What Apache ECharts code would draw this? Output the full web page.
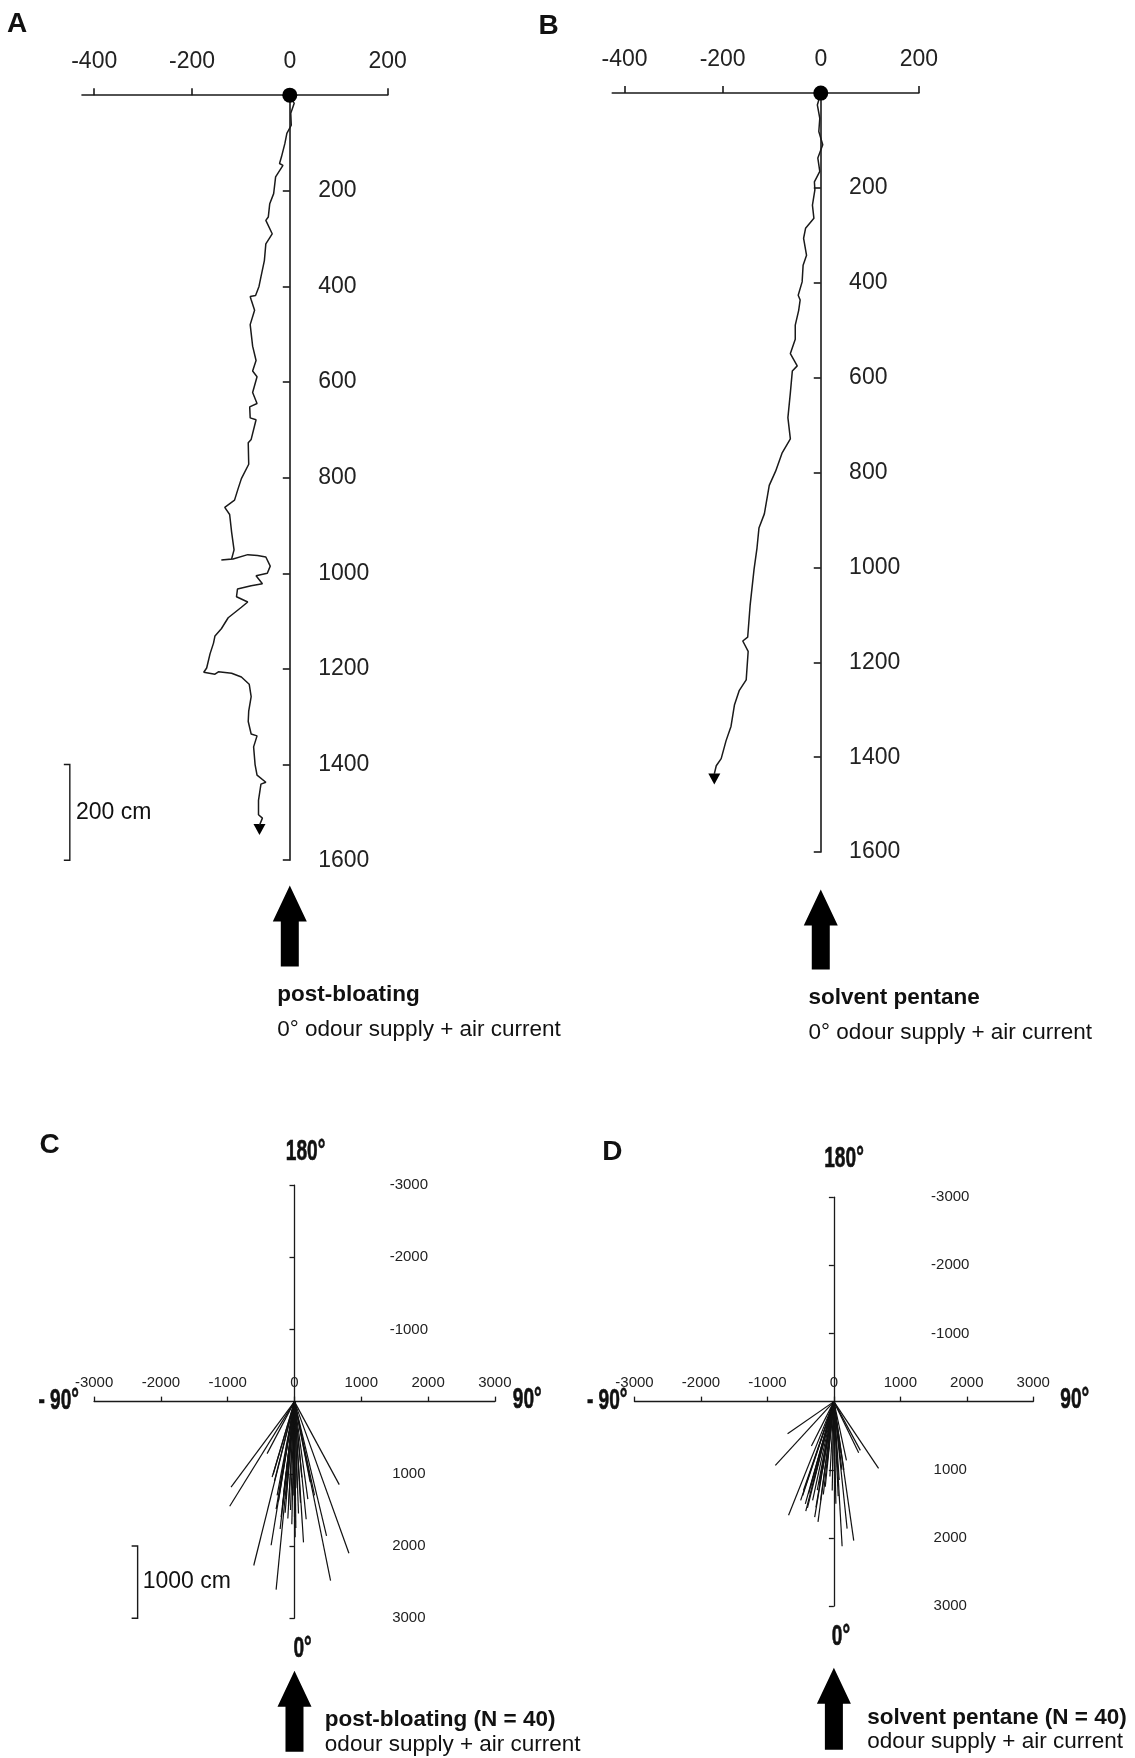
<!DOCTYPE html>
<html><head><meta charset="utf-8">
<script src="https://cdn.jsdelivr.net/npm/echarts@6/dist/echarts.min.js"></script>
<style>html,body{margin:0;padding:0;background:#fff}#c{width:1135px;height:1758px}</style>
</head><body><div id="c"></div>
<script>
// ---------- DATA ----------
// Panel A: walking track, post-bloating (x = lateral cm, y = distance cm from start)
const pathA = [[0,0],[9,17],[2,38],[3,63],[-6,80],[-10,101],[-17,129],[-21,143],[-14,147],[-29,171],[-33,206],[-41,227],[-44,255],[-49,262],[-36,290],[-49,311],[-52,346],[-59,380],[-63,400],[-70,419],[-81,421],[-79,428],[-72,450],[-81,480],[-76,525],[-69,555],[-76,577],[-67,589],[-76,622],[-67,645],[-82,652],[-81,675],[-69,679],[-79,720],[-85,727],[-84,772],[-99,802],[-106,824],[-113,847],[-133,862],[-123,877],[-119,914],[-114,951],[-119,970],[-140,972],[-116,970],[-86,961],[-66,963],[-49,966],[-40,985],[-46,1000],[-69,1005],[-56,1022],[-79,1026],[-107,1033],[-109,1049],[-86,1060],[-99,1071],[-126,1093],[-140,1116],[-153,1131],[-156,1146],[-163,1168],[-170,1198],[-176,1207],[-153,1211],[-146,1206],[-119,1209],[-99,1217],[-83,1232],[-79,1258],[-84,1288],[-85,1310],[-79,1336],[-67,1340],[-74,1363],[-71,1400],[-67,1422],[-49,1437],[-59,1441],[-64,1475],[-64,1505],[-56,1512],[-62,1527]];
const endA = [[-62,1536]];
// Panel B: walking track, solvent pentane
const pathB = [[0,0],[-7,25],[-2,53],[-4,81],[4,109],[-6,137],[-2,165],[-13,187],[-12,204],[-17,236],[-14,264],[-31,285],[-35,306],[-29,342],[-36,363],[-38,398],[-46,426],[-42,436],[-45,458],[-52,489],[-52,519],[-62,549],[-48,575],[-58,586],[-62,632],[-67,684],[-62,729],[-79,759],[-92,797],[-105,827],[-115,887],[-126,917],[-130,959],[-136,1004],[-144,1080],[-149,1147],[-159,1155],[-148,1177],[-152,1237],[-166,1259],[-176,1290],[-183,1335],[-193,1365],[-203,1403],[-213,1418],[-217,1435]];
const endB = [[-217,1446]];
const startPoint = [[0,0]];
// Panel C: end points of 40 tracks (post-bloating)
const fanC = [[-950,1185],[-970,1450],[-610,2270],[-275,2605],[-350,1990],[-215,1765],[-410,720],[-335,1045],[-275,1490],[-200,1600],[-140,1540],[-100,1620],[10,1880],[135,1950],[175,1630],[235,1115],[480,1860],[540,2480],[815,2100],[670,1150],[-320,1010],[-300,1100],[-260,1300],[-240,1380],[-220,1200],[-180,1450],[-160,1250],[-130,1350],[-90,1450],[-60,1500],[-40,1700],[-20,1300],[0,1600],[20,1750],[40,1200],[60,1550],[90,1400],[110,1050],[200,1350],[300,1300]];
// Panel D: end points of 40 tracks (solvent pentane)
const fanD = [[-697,471],[-881,936],[-682,1667],[-423,1608],[-398,1559],[-289,1696],[-239,1765],[-458,1304],[-338,652],[-159,1363],[-25,1304],[65,1387],[124,2123],[299,2039],[199,1863],[189,863],[373,750],[398,716],[672,980],[120,1000],[-500,1450],[-470,1380],[-430,1500],[-380,1350],[-350,1250],[-320,1450],[-300,1150],[-270,1550],[-250,1300],[-220,1200],[-200,1450],[-170,1000],[-130,1250],[-100,900],[-60,1100],[-20,1000],[30,1500],[80,1150],[150,1000],[100,750]];
// tick labels
const ticksABx = [-400,-200,0,200];
const ticksABy = [200,400,600,800,1000,1200,1400,1600];
const ticksCDx = [-3000,-2000,-1000,0,1000,2000,3000];
const ticksCDy = [-3000,-2000,-1000,1000,2000,3000];

// ---------- CHART ----------
const INK = '#1a1a1a';
const SANS = '"Liberation Sans", Arial, sans-serif';
const S = 1.012;
const s = v => v * S;
const chart = echarts.init(document.getElementById('c'), null, {renderer:'canvas', width:1135, height:1758});
const plain = v => String(v);

const grids = [
  {left:s(81), top:s(94), width:s(302), height:s(756)},
  {left:s(605), top:s(92), width:s(303), height:s(750)},
  {left:s(93), top:s(1171), width:s(396), height:s(428)},
  {left:s(627), top:s(1183), width:s(394), height:s(404)}
];
const AB_MIN = -425, AB_MAX = 200;

function xAB(gi){
  return {gridIndex:gi, type:'value', min:AB_MIN, max:AB_MAX, position:'top',
    axisLine:{onZero:false, lineStyle:{color:INK, width:1.6}},
    axisTick:{customValues:ticksABx, length:7, lineStyle:{color:INK, width:1.6}},
    axisLabel:{customValues:ticksABx, formatter:plain, fontSize:23, fontFamily:SANS, color:'#222', margin:22},
    splitLine:{show:false}};
}
function yAB(gi){
  const off = -grids[gi].width * (0 - AB_MIN) / (AB_MAX - AB_MIN);
  return {gridIndex:gi, type:'value', min:0, max:1600, inverse:true, position:'left', offset:off,
    axisLine:{onZero:false, lineStyle:{color:INK, width:1.6}},
    axisTick:{customValues:ticksABy, length:7, lineStyle:{color:INK, width:1.6}},
    axisLabel:{customValues:ticksABy, formatter:plain, inside:true, fontSize:23, fontFamily:SANS, color:'#222', margin:s(28)},
    splitLine:{show:false}};
}
function xCD(gi){
  return {gridIndex:gi, type:'value', min:-3000, max:3000, position:'bottom', offset:-grids[gi].height/2,
    axisLine:{onZero:false, lineStyle:{color:INK, width:1.3}},
    axisTick:{customValues:ticksCDx, inside:true, length:5, lineStyle:{color:INK, width:1.3}},
    axisLabel:{customValues:ticksCDx, formatter:plain, inside:true, fontSize:15, fontFamily:SANS, color:'#222', margin:11},
    splitLine:{show:false}};
}
function yCD(gi, m){
  return {gridIndex:gi, type:'value', min:-3000, max:3000, inverse:true, position:'left', offset:-grids[gi].width/2,
    axisLine:{onZero:false, lineStyle:{color:INK, width:1.3}},
    axisTick:{customValues:ticksCDy, length:5, lineStyle:{color:INK, width:1.3}},
    axisLabel:{customValues:ticksCDy, formatter:plain, inside:true, align:'center', fontSize:15, fontFamily:SANS, color:'#222', margin:m},
    splitLine:{show:false}};
}

const option = {
  backgroundColor:'#fff',
  animation:false,
  grid:grids,
  xAxis:[xAB(0), xAB(1), xCD(2), xCD(3)],
  yAxis:[yAB(0), yAB(1), yCD(2,s(113)), yCD(3,s(115))],
  series:[
    {type:'line', xAxisIndex:0, yAxisIndex:0, data:pathA, showSymbol:false, lineStyle:{color:INK, width:1.5}, silent:true},
    {type:'line', xAxisIndex:1, yAxisIndex:1, data:pathB, showSymbol:false, lineStyle:{color:INK, width:1.5}, silent:true},
    {type:'scatter', xAxisIndex:0, yAxisIndex:0, data:endA, symbol:'triangle', symbolRotate:180, symbolSize:[12,11], itemStyle:{color:'#000', opacity:1}, clip:false},
    {type:'scatter', xAxisIndex:1, yAxisIndex:1, data:endB, symbol:'triangle', symbolRotate:180, symbolSize:[12,11], itemStyle:{color:'#000', opacity:1}, clip:false},
    {type:'scatter', xAxisIndex:0, yAxisIndex:0, data:startPoint, symbolSize:15, itemStyle:{color:'#000', opacity:1}, clip:false, z:5},
    {type:'scatter', xAxisIndex:1, yAxisIndex:1, data:startPoint, symbolSize:15, itemStyle:{color:'#000', opacity:1}, clip:false, z:5},
    {type:'lines', coordinateSystem:'cartesian2d', xAxisIndex:2, yAxisIndex:2, silent:true,
      data:fanC.map(p=>({coords:[[0,0],p]})), lineStyle:{color:'#111', width:1.2, opacity:1}},
    {type:'lines', coordinateSystem:'cartesian2d', xAxisIndex:3, yAxisIndex:3, silent:true,
      data:fanD.map(p=>({coords:[[0,0],p]})), lineStyle:{color:'#111', width:1.2, opacity:1}}
  ]
};
chart.setOption(option);

// ---------- ANNOTATIONS ----------
function px(gi, pt){ return chart.convertToPixel({gridIndex:gi}, pt); }
function txt(text, x, y, size, bold, align){
  return {type:'text', silent:true, style:{text:text, x:s(x), y:s(y), fill:'#111',
    font:(bold?'bold ':'')+size+'px '+SANS, align:align||'left', verticalAlign:'middle'}};
}
function deg(text, x, y){
  return {type:'text', silent:true, x:s(x), y:s(y), scaleX:0.66,
    style:{text:text, x:0, y:0, fill:'#111', stroke:'#111', lineWidth:0.6, font:'bold 29px '+SANS, align:'center', verticalAlign:'middle'}};
}
function bigArrow(cx, tip, bottom){
  const hw=17, hh=36, sw=9; tip=s(tip); bottom=s(bottom);
  return {type:'polygon', silent:true, shape:{points:[[cx,tip],[cx+hw,tip+hh],[cx+sw,tip+hh],[cx+sw,bottom],[cx-sw,bottom],[cx-sw,tip+hh],[cx-hw,tip+hh]]}, style:{fill:'#000'}};
}
function bracket(x, y1, y2){
  x = s(x);
  return {type:'polyline', silent:true, shape:{points:[[x-6,y1],[x,y1],[x,y2],[x-6,y2]]}, style:{stroke:INK, lineWidth:1.4, fill:null}};
}
const a1400 = px(0,[0,1400]), a1600 = px(0,[0,1600]);
const c2000 = px(2,[0,2000]), c3000 = px(2,[0,3000]);
const oA = px(0,[0,1600]), oB = px(1,[0,1600]), oC = px(2,[0,3000]), oD = px(3,[0,3000]);

chart.setOption({graphic:[
  txt('A', 7, 24, 28, true),
  txt('B', 532, 26, 28, true),
  txt('C', 39, 1132, 28, true),
  txt('D', 595, 1139, 28, true),
  bracket(69, a1400[1], a1600[1]),
  {type:'text', silent:true, style:{text:'200 cm', x:s(75), y:(a1400[1]+a1600[1])/2, fill:'#111', font:'23px '+SANS, align:'left', verticalAlign:'middle'}},
  bracket(136, c2000[1], c3000[1]),
  {type:'text', silent:true, style:{text:'1000 cm', x:s(141), y:(c2000[1]+c3000[1])/2, fill:'#111', font:'23px '+SANS, align:'left', verticalAlign:'middle'}},
  bigArrow(oA[0], 875, 955),
  bigArrow(oB[0], 879, 958),
  bigArrow(oC[0], 1651, 1731),
  bigArrow(oD[0], 1648, 1729),
  txt('post-bloating', 274, 983, 22.5, true),
  txt('0\u00b0 odour supply + air current', 274, 1018, 22.5, false),
  txt('solvent pentane', 799, 986, 22.5, true),
  txt('0\u00b0 odour supply + air current', 799, 1021, 22.5, false),
  txt('post-bloating (N = 40)', 321, 1699, 22.5, true),
  txt('odour supply + air current', 321, 1724, 22.5, false),
  txt('solvent pentane (N = 40)', 857, 1697, 22.5, true),
  txt('odour supply + air current', 857, 1721, 22.5, false),
  deg('180\u00b0', 302, 1138),
  deg('0\u00b0', 299, 1629),
  deg('- 90\u00b0', 58, 1384),
  deg('90\u00b0', 521, 1383),
  deg('180\u00b0', 834, 1145),
  deg('0\u00b0', 831, 1618),
  deg('- 90\u00b0', 600, 1384),
  deg('90\u00b0', 1062, 1383)
]});
</script>
</body></html>
